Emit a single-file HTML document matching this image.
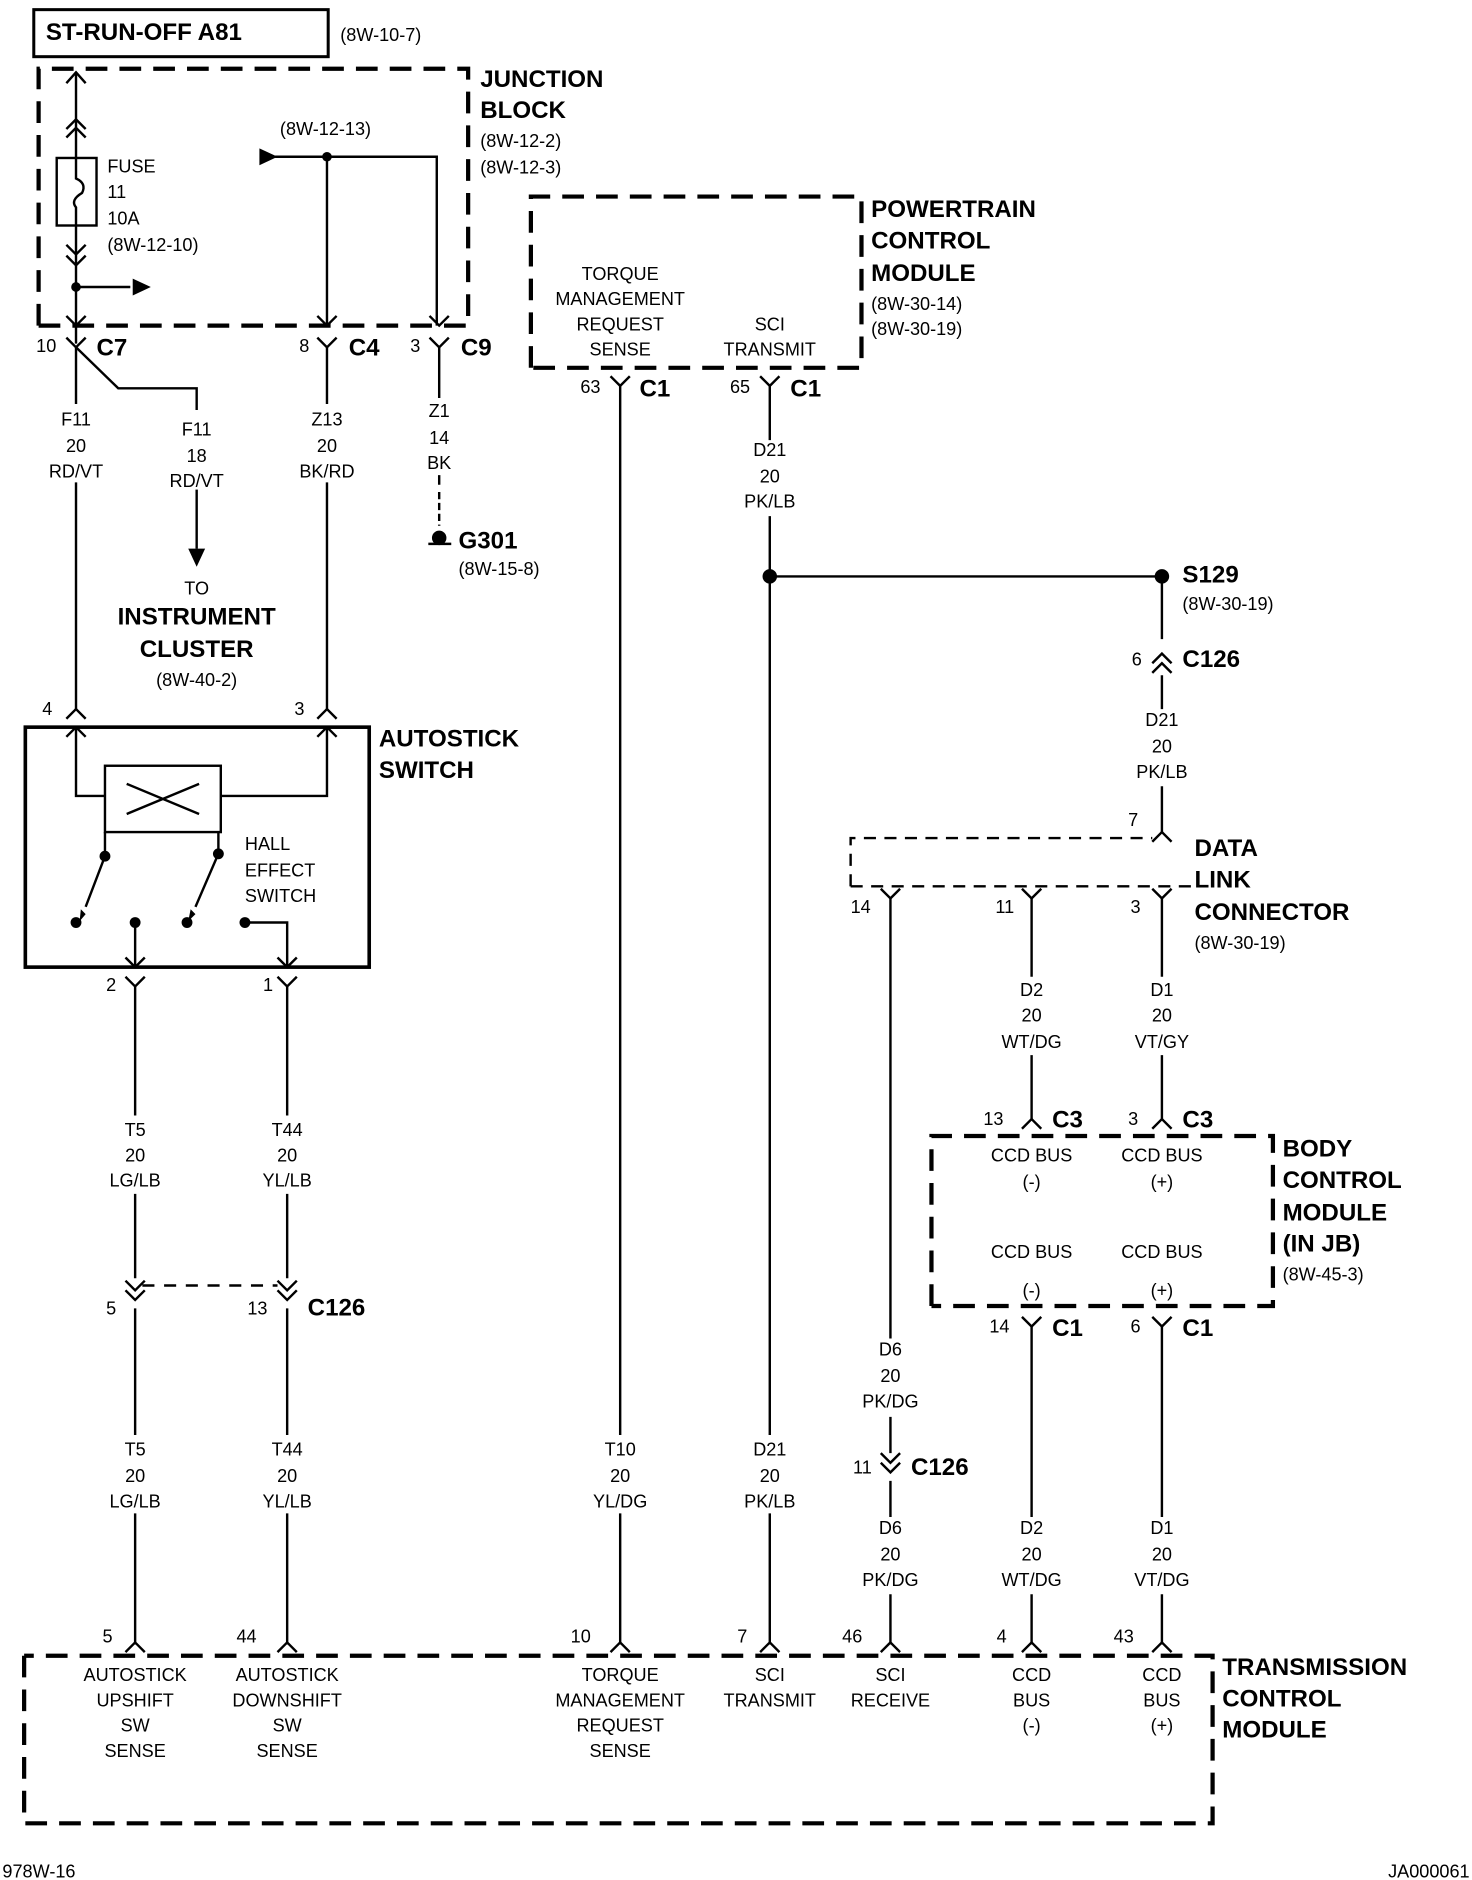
<!DOCTYPE html>
<html><head><meta charset="utf-8"><style>
html,body{margin:0;padding:0;background:#fff;}
svg{display:block;}
text{font-family:"Liberation Sans",sans-serif;fill:#000;}
.t{font-size:15px;}
.m{text-anchor:middle;}
.b{font-weight:bold;font-size:20px;}
</style></head><body>
<svg width="1472" height="1880" viewBox="0 0 1220 1559" preserveAspectRatio="none" xmlns="http://www.w3.org/2000/svg">
<g fill="none" stroke="#000" stroke-width="2">
<!-- top box -->
<rect x="28" y="8" width="244" height="39" stroke-width="2.5"/>
<!-- junction block dashed -->
<path d="M32 270 V57 H388 V270 M32 270 H388" stroke-width="3.5" stroke-dasharray="18 10"/>
<!-- fuse wire -->
<path d="M63 60 V131 M63 187 V285"/>
<path d="M55 69 L63 60 L71 69 M55 107 L63 99 L71 107 M55 114 L63 106 L71 114"/>
<rect x="47" y="131" width="33" height="56"/>
<path d="M63 131 V148 Q72 152 68 160 Q58 166 63 172 V187"/>
<path d="M55 203 L63 211 L71 203 M55 212 L63 220 L71 212"/>
<path d="M63 238 H108"/>
<path d="M55 262 L63 270 L71 262"/>
<!-- 8W-12-13 line -->
<path d="M228 130 H362 V270 M271 130 V270"/>
<path d="M263 262 L271 270 L279 262 M356 262 L364 270 L372 262"/>
<!-- connectors C7 C4 C9 -->
<path d="M55 280 L63 288 L71 280 M263 280 L271 288 L279 280 M356 280 L364 288 L372 280"/>
<path d="M63 288 L98 322 H163 V340"/>
<path d="M63 288 V335 M63 400 V588"/>
<path d="M271 288 V335 M271 400 V588"/>
<path d="M364 288 V330 M364 394 V402"/>
<path d="M364 408 V436" stroke-dasharray="6 3"/>
<path d="M355 451 H374"/>
<path d="M163 406 V455"/>
<!-- autostick -->
<path d="M55 596 L63 588 L71 596 M263 596 L271 588 L279 596"/>
<rect x="21" y="603" width="285" height="199" stroke-width="3"/>
<path d="M55 611 L63 603 L71 611 M263 611 L271 603 L279 611"/>
<path d="M63 603 V660 H87 M183 660 H271 V603"/>
<rect x="87" y="635" width="96" height="55"/>
<path d="M105 650 L165 675 M105 675 L165 650"/>
<path d="M87 690 V710 M181 690 V708"/>
<path d="M87 710 L71 752 M181 708 L162 752"/>
<path d="M112 765 V802 M203 765 H238 V802"/>
<path d="M104 794 L112 802 L120 794 M230 794 L238 802 L246 794"/>
<path d="M104 810 L112 818 L120 810 M230 810 L238 818 L246 810"/>
<path d="M112 818 V925 M112 990 V1060 M112 1085 V1190 M112 1255 V1362"/>
<path d="M238 818 V925 M238 990 V1060 M238 1085 V1190 M238 1255 V1362"/>
<path d="M104 1062 L112 1070 L120 1062 M104 1070 L112 1078 L120 1070 M230 1062 L238 1070 L246 1062 M230 1070 L238 1078 L246 1070"/>
<path d="M118 1066 H230" stroke-dasharray="10 8"/>
<!-- PCM -->
<path d="M440 305 V163 H714 V305 H440" stroke-width="3.5" stroke-dasharray="18 10"/>
<path d="M506 312 L514 320 L522 312 M630 312 L638 320 L646 312"/>
<path d="M514 320 V1190 M514 1255 V1362"/>
<path d="M638 320 V365 M638 428 V1190 M638 1255 V1362"/>
<path d="M638 478 H963 V530 M963 560 V588 M963 652 V690"/>
<path d="M955 550 L963 542 L971 550 M955 558 L963 550 L971 558"/>
<!-- DLC -->
<path d="M955 698 L963 690 L971 698"/>
<path d="M705 735 V695 H955 M705 735 H990" stroke-width="2" stroke-dasharray="10 7"/>
<path d="M730 737 L738 745 L746 737 M847 737 L855 745 L863 737 M955 737 L963 745 L971 737"/>
<path d="M738 745 V1110 M738 1175 V1205 M738 1228 V1258 M738 1322 V1362"/>
<path d="M730 1205 L738 1213 L746 1205 M730 1213 L738 1221 L746 1213"/>
<path d="M855 745 V810 M855 875 V928 M963 745 V810 M963 875 V928"/>
<path d="M847 936 L855 928 L863 936 M955 936 L963 928 L971 936"/>
<!-- BCM -->
<path d="M772 1083 V942 H1055 V1083 H772" stroke-width="3.5" stroke-dasharray="18 10"/>
<path d="M847 1092 L855 1100 L863 1092 M955 1092 L963 1100 L971 1092"/>
<path d="M855 1100 V1258 M855 1322 V1362 M963 1100 V1258 M963 1322 V1362"/>
<!-- TCM pins -->
<path d="M104 1370 L112 1362 L120 1370 M230 1370 L238 1362 L246 1370 M506 1370 L514 1362 L522 1370 M630 1370 L638 1362 L646 1370 M730 1370 L738 1362 L746 1370 M847 1370 L855 1362 L863 1370 M955 1370 L963 1362 L971 1370"/>
<path d="M20 1373 V1512 H1005 V1373 H20" stroke-width="3.5" stroke-dasharray="18 10"/>
</g>
<g fill="#000">
<path d="M110 231 L125 238 L110 245 Z"/>
<path d="M215 123 L230 130 L215 137 Z"/>
<path d="M156 455 L163 470 L170 455 Z"/>
<circle cx="63" cy="238" r="4"/><circle cx="271" cy="130" r="4"/>
<circle cx="364" cy="446" r="6"/>
<circle cx="87" cy="710" r="4.5"/><circle cx="181" cy="708" r="4.5"/>
<circle cx="63" cy="765" r="4.5"/><circle cx="112" cy="765" r="4.5"/><circle cx="155" cy="765" r="4.5"/><circle cx="203" cy="765" r="4.5"/>
<path d="M67 754 L71 758 L66 764 Z M158 754 L162 758 L156 764 Z"/>
<circle cx="638" cy="478" r="6"/><circle cx="963" cy="478" r="6"/>
</g>
<text class="b" x="38" y="33">ST-RUN-OFF A81</text>
<text class="t" x="282" y="34">(8W-10-7)</text>
<text class="b" x="398" y="72">JUNCTION</text>
<text class="b" x="398" y="98">BLOCK</text>
<text class="t" x="398" y="122">(8W-12-2)</text>
<text class="t" x="398" y="144">(8W-12-3)</text>
<text class="t" x="89" y="143">FUSE</text>
<text class="t" x="89" y="164">11</text>
<text class="t" x="89" y="186">10A</text>
<text class="t" x="89" y="208">(8W-12-10)</text>
<text class="t" x="232" y="112">(8W-12-13)</text>
<text class="t" x="30" y="292">10</text><text class="b" x="80" y="295">C7</text>
<text class="t" x="248" y="292">8</text><text class="b" x="289" y="295">C4</text>
<text class="t" x="340" y="292">3</text><text class="b" x="382" y="295">C9</text>
<g class="t m">
<text class="t m" x="63" y="353">F11</text><text class="t m" x="63" y="375">20</text><text class="t m" x="63" y="396">RD/VT</text>
<text class="t m" x="163" y="361">F11</text><text class="t m" x="163" y="383">18</text><text class="t m" x="163" y="404">RD/VT</text>
<text class="t m" x="271" y="353">Z13</text><text class="t m" x="271" y="375">20</text><text class="t m" x="271" y="396">BK/RD</text>
<text class="t m" x="364" y="346">Z1</text><text class="t m" x="364" y="368">14</text><text class="t m" x="364" y="389">BK</text>
<text class="t m" x="163" y="493">TO</text>
<text class="b m" x="163" y="518">INSTRUMENT</text>
<text class="b m" x="163" y="545">CLUSTER</text>
<text class="t m" x="163" y="569">(8W-40-2)</text>
</g>
<text class="b" x="380" y="455">G301</text>
<text class="t" x="380" y="477">(8W-15-8)</text>
<text class="t" x="35" y="593">4</text><text class="t" x="244" y="593">3</text>
<text class="b" x="314" y="619">AUTOSTICK</text>
<text class="b" x="314" y="645">SWITCH</text>
<text class="t" x="203" y="705">HALL</text>
<text class="t" x="203" y="727">EFFECT</text>
<text class="t" x="203" y="748">SWITCH</text>
<text class="t" x="88" y="822">2</text><text class="t" x="218" y="822">1</text>
<text class="t m" x="112" y="942">T5</text><text class="t m" x="112" y="963">20</text><text class="t m" x="112" y="984">LG/LB</text>
<text class="t m" x="238" y="942">T44</text><text class="t m" x="238" y="963">20</text><text class="t m" x="238" y="984">YL/LB</text>
<text class="t" x="88" y="1090">5</text><text class="t" x="205" y="1090">13</text><text class="b" x="255" y="1091">C126</text>
<text class="t m" x="112" y="1207">T5</text><text class="t m" x="112" y="1229">20</text><text class="t m" x="112" y="1250">LG/LB</text>
<text class="t m" x="238" y="1207">T44</text><text class="t m" x="238" y="1229">20</text><text class="t m" x="238" y="1250">YL/LB</text>
<text class="t m" x="514" y="1207">T10</text><text class="t m" x="514" y="1229">20</text><text class="t m" x="514" y="1250">YL/DG</text>
<text class="t m" x="638" y="1207">D21</text><text class="t m" x="638" y="1229">20</text><text class="t m" x="638" y="1250">PK/LB</text>
<!-- PCM -->
<text class="t m" x="514" y="232">TORQUE</text><text class="t m" x="514" y="253">MANAGEMENT</text><text class="t m" x="514" y="274">REQUEST</text><text class="t m" x="514" y="295">SENSE</text>
<text class="t m" x="638" y="274">SCI</text><text class="t m" x="638" y="295">TRANSMIT</text>
<text class="b" x="722" y="180">POWERTRAIN</text>
<text class="b" x="722" y="206">CONTROL</text>
<text class="b" x="722" y="233">MODULE</text>
<text class="t" x="722" y="257">(8W-30-14)</text>
<text class="t" x="722" y="278">(8W-30-19)</text>
<text class="t" x="481" y="326">63</text><text class="b" x="530" y="329">C1</text>
<text class="t" x="605" y="326">65</text><text class="b" x="655" y="329">C1</text>
<text class="t m" x="638" y="378">D21</text><text class="t m" x="638" y="400">20</text><text class="t m" x="638" y="421">PK/LB</text>
<text class="b" x="980" y="483">S129</text>
<text class="t" x="980" y="506">(8W-30-19)</text>
<text class="t" x="938" y="552">6</text><text class="b" x="980" y="553">C126</text>
<text class="t m" x="963" y="602">D21</text><text class="t m" x="963" y="624">20</text><text class="t m" x="963" y="645">PK/LB</text>
<text class="t" x="935" y="685">7</text>
<text class="b" x="990" y="710">DATA</text>
<text class="b" x="990" y="736">LINK</text>
<text class="b" x="990" y="763">CONNECTOR</text>
<text class="t" x="990" y="787">(8W-30-19)</text>
<text class="t" x="705" y="757">14</text><text class="t" x="825" y="757">11</text><text class="t" x="937" y="757">3</text>
<text class="t m" x="855" y="826">D2</text><text class="t m" x="855" y="847">20</text><text class="t m" x="855" y="869">WT/DG</text>
<text class="t m" x="963" y="826">D1</text><text class="t m" x="963" y="847">20</text><text class="t m" x="963" y="869">VT/GY</text>
<text class="t" x="815" y="933">13</text><text class="b" x="872" y="935">C3</text>
<text class="t" x="935" y="933">3</text><text class="b" x="980" y="935">C3</text>
<text class="t m" x="855" y="963">CCD BUS</text><text class="t m" x="855" y="985">(-)</text>
<text class="t m" x="963" y="963">CCD BUS</text><text class="t m" x="963" y="985">(+)</text>
<text class="t m" x="855" y="1043">CCD BUS</text><text class="t m" x="855" y="1075">(-)</text>
<text class="t m" x="963" y="1043">CCD BUS</text><text class="t m" x="963" y="1075">(+)</text>
<text class="b" x="1063" y="959">BODY</text>
<text class="b" x="1063" y="985">CONTROL</text>
<text class="b" x="1063" y="1012">MODULE</text>
<text class="b" x="1063" y="1038">(IN JB)</text>
<text class="t" x="1063" y="1062">(8W-45-3)</text>
<text class="t" x="820" y="1105">14</text><text class="b" x="872" y="1108">C1</text>
<text class="t" x="937" y="1105">6</text><text class="b" x="980" y="1108">C1</text>
<text class="t m" x="738" y="1124">D6</text><text class="t m" x="738" y="1146">20</text><text class="t m" x="738" y="1167">PK/DG</text>
<text class="t" x="707" y="1222">11</text><text class="b" x="755" y="1223">C126</text>
<text class="t m" x="738" y="1272">D6</text><text class="t m" x="738" y="1294">20</text><text class="t m" x="738" y="1315">PK/DG</text>
<text class="t m" x="855" y="1272">D2</text><text class="t m" x="855" y="1294">20</text><text class="t m" x="855" y="1315">WT/DG</text>
<text class="t m" x="963" y="1272">D1</text><text class="t m" x="963" y="1294">20</text><text class="t m" x="963" y="1315">VT/DG</text>
<text class="t" x="85" y="1362">5</text><text class="t" x="196" y="1362">44</text>
<text class="t" x="473" y="1362">10</text><text class="t" x="611" y="1362">7</text>
<text class="t" x="698" y="1362">46</text><text class="t" x="826" y="1362">4</text><text class="t" x="923" y="1362">43</text>
<text class="t m" x="112" y="1394">AUTOSTICK</text><text class="t m" x="112" y="1415">UPSHIFT</text><text class="t m" x="112" y="1436">SW</text><text class="t m" x="112" y="1457">SENSE</text>
<text class="t m" x="238" y="1394">AUTOSTICK</text><text class="t m" x="238" y="1415">DOWNSHIFT</text><text class="t m" x="238" y="1436">SW</text><text class="t m" x="238" y="1457">SENSE</text>
<text class="t m" x="514" y="1394">TORQUE</text><text class="t m" x="514" y="1415">MANAGEMENT</text><text class="t m" x="514" y="1436">REQUEST</text><text class="t m" x="514" y="1457">SENSE</text>
<text class="t m" x="638" y="1394">SCI</text><text class="t m" x="638" y="1415">TRANSMIT</text>
<text class="t m" x="738" y="1394">SCI</text><text class="t m" x="738" y="1415">RECEIVE</text>
<text class="t m" x="855" y="1394">CCD</text><text class="t m" x="855" y="1415">BUS</text><text class="t m" x="855" y="1436">(-)</text>
<text class="t m" x="963" y="1394">CCD</text><text class="t m" x="963" y="1415">BUS</text><text class="t m" x="963" y="1436">(+)</text>
<text class="b" x="1013" y="1389">TRANSMISSION</text>
<text class="b" x="1013" y="1415">CONTROL</text>
<text class="b" x="1013" y="1441">MODULE</text>
<text class="t" x="2" y="1557">978W-16</text>
<text class="t" x="1218" y="1557" text-anchor="end">JA000061</text>
</svg>
</body></html>
